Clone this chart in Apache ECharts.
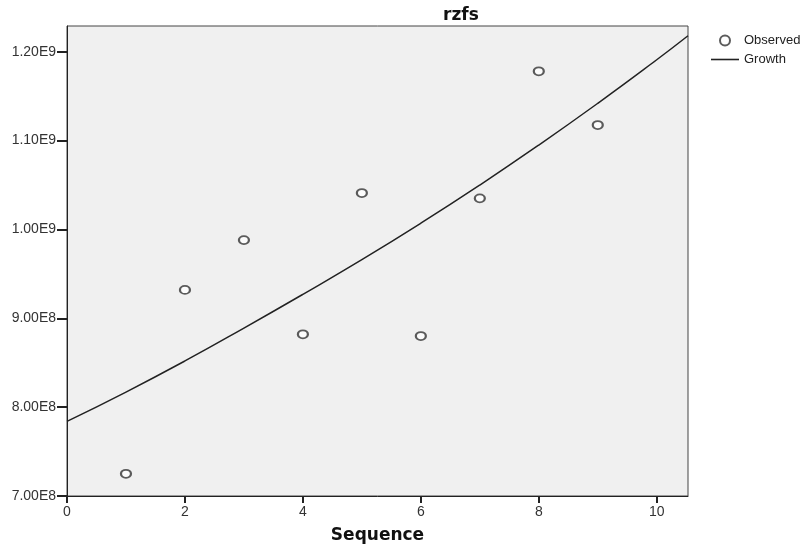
<!DOCTYPE html>
<html>
<head>
<meta charset="utf-8">
<script src="https://cdn.jsdelivr.net/npm/echarts@6/dist/echarts.min.js"></script>
<style>
html,body{margin:0;padding:0;background:#fff;}
#chart{width:807px;height:553px;}
</style>
</head>
<body>
<div id="chart"></div>
<script>
// Observed values (sequence 1..9)
const obsSequence = [1, 2, 3, 4, 5, 6, 7, 8, 9];
const obsValues = [7.25e8, 9.32e8, 9.88e8, 8.82e8, 1.041e9, 8.80e8, 1.035e9, 1.178e9, 1.1175e9];
// Growth curve
const growthSequence = [0, 1, 2, 3, 4, 5, 6, 7, 8, 9, 10, 10.53];
const growthValues = [7.84e8, 8.17e8, 8.52e8, 8.89e8, 9.27e8, 9.66e8, 1.007e9, 1.050e9, 1.095e9, 1.142e9, 1.191e9, 1.218e9];

const titleText = 'rzfs';
const xName = 'Sequence';
const legendNames = ['Observed', 'Growth'];

function sci(v) {
  if (v === 0) return '0';
  const e = Math.floor(Math.log10(v) + 1e-9);
  const m = v / Math.pow(10, e);
  return m.toFixed(2) + 'E' + e;
}

const chart = echarts.init(document.getElementById('chart'), null, {renderer: 'canvas'});
chart.setOption({
  animation: false,
  backgroundColor: '#ffffff',
  title: {
    text: titleText,
    left: 438,
    top: 2,
    textStyle: {fontFamily: 'DejaVu Sans', fontWeight: 'bold', fontSize: 17, color: '#111'}
  },
  legend: {
    orient: 'vertical',
    left: 706,
    top: 29,
    itemWidth: 28,
    itemHeight: 10,
    itemGap: 6,
    textStyle: {fontFamily: 'Liberation Sans', fontSize: 13, color: '#222', lineHeight: 11},
    data: [
      {name: legendNames[0], icon: 'emptyCircle', itemStyle: {color: '#333', borderColor: '#333', borderWidth: 1.3}},
      {name: legendNames[1], icon: 'path://M0,0L28,0L28,1.6L0,1.6Z', itemStyle: {color: '#222', borderWidth: 0}}
    ]
  },
  grid: {
    left: 67, right: 119, top: 26, bottom: 57,
    show: true,
    backgroundColor: '#f0f0f0',
    borderColor: '#444',
    borderWidth: 1
  },
  xAxis: {
    type: 'value',
    min: 0,
    max: 10.53,
    interval: 2,
    name: xName,
    nameLocation: 'middle',
    nameGap: 31,
    nameTextStyle: {fontFamily: 'DejaVu Sans', fontWeight: 'bold', fontSize: 17, color: '#111'},
    splitLine: {show: false},
    axisLine: {show: true, onZero: false, lineStyle: {color: '#222', width: 1}},
    axisTick: {show: true, length: 7, lineStyle: {color: '#222', width: 2}},
    axisLabel: {showMaxLabel: false, margin: 9, fontFamily: 'Liberation Sans', fontSize: 14, color: '#333'}
  },
  yAxis: {
    type: 'value',
    min: 7e8,
    max: 1.229e9,
    interval: 1e8,
    splitLine: {show: false},
    axisLine: {show: true, onZero: false, lineStyle: {color: '#222', width: 1}},
    axisTick: {show: true, length: 10, lineStyle: {color: '#222', width: 2}},
    axisLabel: {showMaxLabel: false, margin: 11, fontFamily: 'Liberation Sans', fontSize: 14, color: '#333', formatter: sci}
  },
  series: [
    {
      name: legendNames[0],
      type: 'scatter',
      symbol: 'emptyCircle',
      symbolSize: [10, 8],
      itemStyle: {color: '#333', borderColor: '#333', borderWidth: 1.5},
      data: obsSequence.map((x, i) => [x, obsValues[i]]),
      z: 3
    },
    {
      name: legendNames[1],
      type: 'line',
      showSymbol: false,
      symbol: 'none',
      smooth: true,
      lineStyle: {color: '#222', width: 1.5},
      itemStyle: {color: '#222'},
      data: growthSequence.map((x, i) => [x, growthValues[i]]),
      z: 2
    }
  ]
});
</script>
</body>
</html>
